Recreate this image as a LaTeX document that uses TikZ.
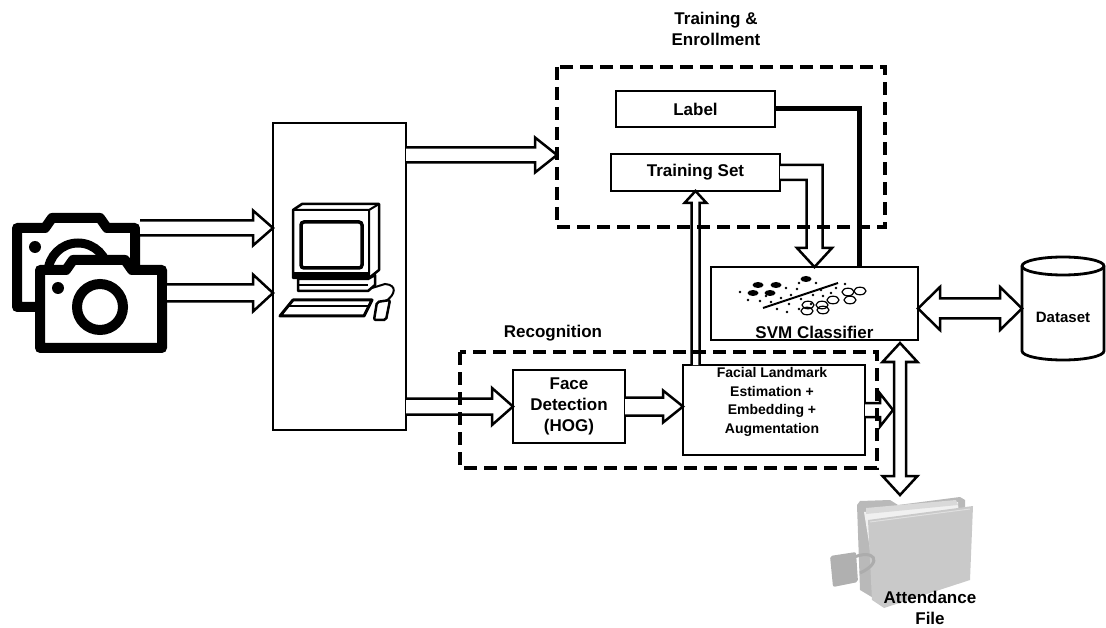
\documentclass[tikz,border=0pt]{standalone}
\usepackage{fontspec}
\setmainfont{Liberation Sans}
\usetikzlibrary{calc}

\tikzset{
  zone/.style={inner sep=0pt, outer sep=0pt},
  box/.style={draw, line width=2.8pt, fill=white, inner sep=0pt, outer sep=0pt},
  txt/.style={font=\bfseries\fontsize{17}{21}\selectfont, align=center, inner sep=0pt},
  smalltxt/.style={font=\bfseries\fontsize{14}{18.7}\selectfont, align=center, inner sep=0pt},
  dashbox/.style={draw, line width=3.5pt, dash pattern=on 13pt off 7pt},
  blockarrow/.style={draw, line width=2.5pt, fill=white, line join=miter},
  thickline/.style={draw, line width=5pt},
  camline/.style={line width=10pt, line join=round},
}

% hollow block arrow: start, tip, shaft half width, head half width, head length
\newcommand{\hollowarrow}[5]{%
  \coordinate (ha-s) at (#1);
  \coordinate (ha-e) at (#2);
  \draw[blockarrow]
    ($(ha-s)!#3!90:(ha-e)$)
    -- ($(ha-e)!#5!(ha-s)!#3!-90:(ha-s)$)
    -- ($(ha-e)!#5!(ha-s)!#4!-90:(ha-s)$)
    -- (ha-e)
    -- ($(ha-e)!#5!(ha-s)!#4!90:(ha-s)$)
    -- ($(ha-e)!#5!(ha-s)!#3!90:(ha-s)$)
    -- ($(ha-s)!#3!-90:(ha-e)$);
}
% hollow block arrow with a head at both ends
\newcommand{\hollowdarrow}[5]{%
  \coordinate (hd-s) at (#1);
  \coordinate (hd-e) at (#2);
  \draw[blockarrow] (hd-s)
    -- ($(hd-s)!#5!(hd-e)!#4!90:(hd-e)$)
    -- ($(hd-s)!#5!(hd-e)!#3!90:(hd-e)$)
    -- ($(hd-e)!#5!(hd-s)!#3!-90:(hd-s)$)
    -- ($(hd-e)!#5!(hd-s)!#4!-90:(hd-s)$)
    -- (hd-e)
    -- ($(hd-e)!#5!(hd-s)!#4!90:(hd-s)$)
    -- ($(hd-e)!#5!(hd-s)!#3!90:(hd-s)$)
    -- ($(hd-s)!#5!(hd-e)!#3!-90:(hd-e)$)
    -- ($(hd-s)!#5!(hd-e)!#4!-90:(hd-e)$)
    -- cycle;
}

\begin{document}
\begin{tikzpicture}[x=1pt,y=-1pt]
\useasboundingbox (0,0) rectangle (1106,628);

% ---- regions and icon areas ----
\node[zone, minimum width=328, minimum height=160] (tr) at (721,147) {};
\node[zone, minimum width=417, minimum height=116] (rec) at (668.5,410) {};
\node[zone, minimum width=128, minimum height=89] (cam1) at (76,267.5) {};
\node[zone, minimum width=132, minimum height=88] (cam2) at (101,309) {};
\node[zone, minimum width=82, minimum height=103] (ds) at (1063,308.5) {};
\node[zone, minimum width=145, minimum height=114] (att) at (902,552) {};

% ---- cameras ----
\draw[camline, fill=white] (17,228) -- (45,228) -- (52,218) -- (100,218) -- (107,228)
  -- (135,228) -- (135,307) -- (17,307) -- cycle;
\draw[line width=9pt] (78,273) circle[radius=30pt];
\fill (35,247) circle[radius=6pt];
\draw[camline, fill=white] (40,270) -- (66,270) -- (73,260) -- (125,260) -- (132,270)
  -- (162,270) -- (162,348) -- (40,348) -- cycle;
\draw[line width=10pt] (100,307) circle[radius=23pt];
\fill (58,288) circle[radius=6pt];

% ---- computer ----
\node[box, minimum width=133, minimum height=307] (pc) at (339.5,276.5) {};
\draw[line width=2.5pt, fill=white, line join=round] (293,210) -- (302,204) -- (379,204)
  -- (379,270) -- (369,278) -- (293,278) -- cycle;
\draw[line width=2pt] (293,210) -- (369,210) -- (379,204) (369,210) -- (369,278);
\draw[line width=3.5pt, rounded corners=3pt, fill=white] (301,222) rectangle (362,268);
\fill (293,272) rectangle (369,278);
\draw[line width=2.5pt, fill=white, line join=round] (298,279) -- (368,279) -- (375,275)
  -- (375,285) -- (368,291) -- (298,291) -- cycle;
\draw[line width=2pt] (298,285) -- (368,285);
\draw[line width=3pt, fill=white, line join=round] (280,316) -- (293,300) -- (372,300)
  -- (364,316) -- cycle;
\draw[line width=2pt] (288,306) -- (368,306);
\draw[line width=2.5pt, fill=white, rounded corners=2pt] (377,302) -- (390,300) -- (386,320)
  -- (374,320) -- cycle;
\draw[line width=2pt] (386,301) .. controls (395,295) and (398,285) .. (385,284) -- (372,288);

% ---- training & enrollment ----
\node[box, txt, minimum width=159, minimum height=36] (lbl) at (695.5,109) {Label};
\node[box, txt, minimum width=169, minimum height=37] (ts) at (695.5,172.5) {Training Set};
\node[txt] (trtitle) at (716,28.5) {Training \&\\Enrollment};

% ---- SVM classifier ----
\node[box, minimum width=207, minimum height=73] (svm) at (814.5,303.5) {};
\node[txt, anchor=base] (svmt) at ($(svm.south)+(0,-1.5)$) {SVM Classifier};
\foreach \p in {(753,293),(770,293),(758,285),(776,285),(806,279)}
  \fill \p ellipse[x radius=5.5pt, y radius=3pt];
\foreach \p in {(748,300),(760,301),(771,302),(781,298),(791,295),(797,289),(786,288),
  (799,283),(816,283),(821,290),(813,295),(801,299),(789,304),(777,309),(787,312),
  (799,309),(811,304),(823,296),(831,293),(836,288),(845,284),(766,296),(740,292)}
  \fill \p circle[radius=1.3pt];
\draw[line width=2pt] (763,308) -- (838,283);
\foreach \p in {(848,292),(860,291),(833,300),(850,300),(808,305),(822,305),(807,311),(823,310)}
  \draw[line width=1.2pt] \p ellipse[x radius=6pt, y radius=3.8pt];

% ---- dataset ----
\draw[line width=2.8pt, fill=white] (1022,266) -- (1022,351)
  arc[start angle=180, end angle=360, x radius=41pt, y radius=9pt]
  -- (1104,266) arc[start angle=0, end angle=180, x radius=41pt, y radius=9pt] -- cycle;
\draw[line width=2.8pt] (1022,266) arc[start angle=180, end angle=360, x radius=41pt, y radius=9pt];
\node[font=\bfseries\fontsize{15}{18}\selectfont, inner sep=0pt] (dst) at (1063,317) {Dataset};

% ---- recognition ----
\node[txt] (rectitle) at (553,333) {Recognition};
\node[box, txt, minimum width=112, minimum height=73] (fd) at (569,406.5) {Face\\Detection\\(HOG)};
\node[box, minimum width=182, minimum height=90] (fl) at (774,410) {};
\node[smalltxt] (flt) at (772,402) {Facial Landmark\\Estimation +\\Embedding +\\Augmentation};

% ---- attendance file ----
\fill[gray!55] (857,505) -- (860,501) -- (890,500) -- (898,505) -- (960,497) -- (965,500)
  -- (966,575) -- (880,602) -- (860,590) -- cycle;
\fill[gray!12] (864,512) -- (958,502) -- (962,574) -- (878,598) -- cycle;
\fill[gray!30] (866,508) -- (956,500) -- (958,505) -- (866,514) -- cycle;
\fill[gray!42] (868,520) -- (973,506) -- (970,580) -- (884,608) -- (872,600) -- cycle;
\draw[gray!25, line width=1pt] (870,522) -- (970,509);
\draw[gray!65, line width=3pt] (852,558) .. controls (874,548) and (884,562) .. (860,573);
\fill[gray!62, rounded corners=2pt] (830,556) -- (856,552) -- (858,582) -- (833,587) -- cycle;
\node[txt] (attt) at (930,608) {Attendance\\File};

% ---- connectors ----
\hollowarrow{$(cam1.east)+(0,-39.5)$}{$(cam1.east -| pc.west)+(0,-39.5)$}{7.5pt}{17.5pt}{20pt}
\hollowarrow{$(cam2.east)+(0,-16)$}{$(cam2.east -| pc.west)+(0,-16)$}{8.5pt}{18.5pt}{20pt}
\hollowarrow{$(tr.west -| pc.east)+(0,8)$}{$(tr.west)+(0,8)$}{7.5pt}{17.5pt}{22pt}
\hollowarrow{fd.west -| pc.east}{fd.west}{8pt}{18.5pt}{21pt}
\hollowarrow{fd.east}{fd.east -| fl.west}{9pt}{16pt}{20pt}
\hollowarrow{fl.east}{$(fl.east)+(28,0)$}{7pt}{16.5pt}{13pt}
\hollowarrow{ts.south |- fl.north}{ts.south}{4pt}{11pt}{12pt}
\coordinate (vtop) at ($(svm.south east)+(-18,3)$);
\hollowdarrow{vtop}{vtop |- att.north}{6pt}{17.5pt}{19pt}
\hollowdarrow{ds.west -| svm.east}{ds.west}{10pt}{21.5pt}{22pt}

% training set into the classifier
\draw[blockarrow]
  ($(ts.east)+(0,-7.5)$) -- ($(svm.north |- ts.east)+(8,-7.5)$)
  -- ($(svm.north)+(8,-19)$) -- ($(svm.north)+(17.5,-19)$) -- (svm.north)
  -- ($(svm.north)+(-17.5,-19)$) -- ($(svm.north)+(-8,-19)$)
  -- ($(svm.north |- ts.east)+(-8,7.5)$) -- ($(ts.east)+(0,7.5)$);
% label into the classifier
\draw[thickline] (lbl.east) -| ($(svm.north)+(44.5,0)$);

% ---- dashed regions ----
\draw[dashbox] (tr.north west) rectangle (tr.south east);
\draw[dashbox] (rec.north west) rectangle (rec.south east);
\end{tikzpicture}
\end{document}
